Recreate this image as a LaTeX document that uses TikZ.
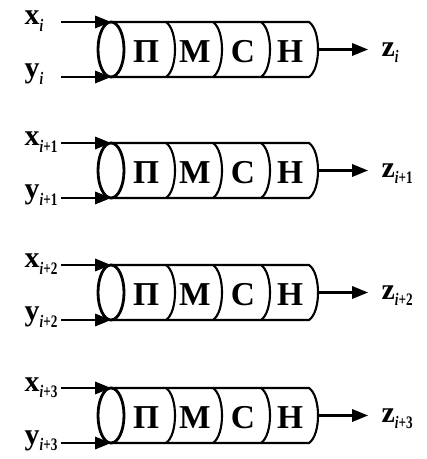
\documentclass[tikz,border=0pt]{standalone}
\usepackage{fontspec}
\setmainfont{Liberation Serif}
\usetikzlibrary{arrows.meta}

\newcommand{\ix}[1]{\raisebox{-0.45ex}{\scalebox{0.75}[1]{\fontsize{5}{5}\selectfont #1}}}

\tikzset{
  lab/.style={anchor=base west, inner sep=0pt, font=\fontsize{8.5}{10}\selectfont\bfseries},
  inlab/.style={lab, text width=0.36cm, align=left},
  cell/.style={inner sep=0pt, font=\fontsize{9.5}{11}\selectfont\bfseries},
  tube/.style={line width=0.6pt},
  flow/.style={line width=0.6pt, -{Triangle[length=4.5pt,width=3.5pt]}}
}

\begin{document}
\begin{tikzpicture}[x=0.01cm, y=-0.01cm]
  \useasboundingbox (0,0) rectangle (426,459);

  \foreach \r/\t/\s in {1/22/\textit{i}, 2/143/\textit{i}+1, 3/265/\textit{i}+2, 4/388/\textit{i}+3} {
    \pgfmathsetmacro{\b}{\t+55}
    \pgfmathsetmacro{\c}{\t+27.5}

    % Tube
    \draw[tube] (111,\t) -- (309,\t) .. controls (321,\t+8) and (321,\b-8) .. (309,\b) -- (111,\b);
    \draw[tube, line width=0.8pt] (111,\c) ellipse [x radius=13, y radius=27.5];
    \foreach \d in {166,213,261}
      \draw[tube] (\d,\t) .. controls (\d+12,\t+8) and (\d+12,\b-8) .. (\d,\b);

    % Cells
    \node[cell] (p\r) at (146,\c+2) {П};
    \node[cell] (m\r) at (195,\c+2) {М};
    \node[cell] (s\r) at (243,\c+2) {С};
    \node[cell] (n\r) at (290,\c+2) {Н};

    % Inputs
    \coordinate (a\r) at (111,\t);
    \coordinate (b\r) at (111,\b);
    \node[inlab] (x\r) at (24,\t+3) {x\ix{\s}};
    \node[inlab] (y\r) at (24,\b+1) {y\ix{\s}};
    \draw[flow] (x\r.east |- a\r) -- (a\r);
    \draw[flow] (y\r.east |- b\r) -- (b\r);

    % Output
    \coordinate (o\r) at (318,\c);
    \node[lab] (z\r) at (381,\c+7) {z\ix{\s}};
    \draw[flow, shorten >=0.13cm] (o\r) -- (o\r -| z\r.west);
  }
\end{tikzpicture}
\end{document}
